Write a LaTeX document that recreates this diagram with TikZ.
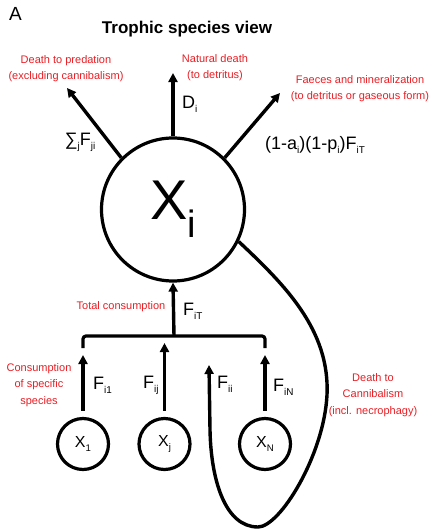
\documentclass[tikz,border=0pt]{standalone}
\usepackage{fontspec}
\setmainfont{Liberation Sans}
\usetikzlibrary{arrows.meta}
\definecolor{labred}{RGB}{232,30,36}
\newcommand{\sbs}[2][0.55]{\raisebox{-0.22em}{\scalebox{#1}{#2}}}
\tikzset{
  flow/.style={line width=3.4pt,-{Triangle[length=9pt,width=9pt]}},
  pool/.style={circle,draw,line width=3.2pt,inner sep=0pt},
  note/.style={text=labred,font=\fontsize{11}{16}\selectfont,align=center},
  flux/.style={font=\fontsize{18}{20}\selectfont,inner sep=0pt,anchor=west}
}
\begin{document}
\begin{tikzpicture}[x=1pt,y=-1pt]
    \useasboundingbox (0,0) rectangle (432,531);
    \node[font=\fontsize{19}{20}\selectfont] (panel) at (15.5,14) {A};
    \node[font=\fontsize{17}{20}\selectfont\bfseries] (title) at (187,29) {Trophic species view};
    % the pools
    \node[pool,minimum size=143pt,font=\fontsize{56}{60}\selectfont] (bigc) at (173,209.5) {X\raisebox{-0.32em}{\scalebox{0.68}{i}}};
    \node[pool,minimum size=51pt,font=\fontsize{16}{18}\selectfont] (x1) at (83,444) {X\sbs[0.6]{1}};
    \node[pool,minimum size=51pt,font=\fontsize{16}{18}\selectfont] (xj) at (164.5,444) {X\sbs[0.6]{j}};
    \node[pool,minimum size=51pt,font=\fontsize{16}{18}\selectfont] (xn) at (265,444) {X\sbs[0.6]{N}};
    % outflows
    \coordinate (tpred) at (67,88);
    \coordinate (tdet) at (173,73);
    \coordinate (tfae) at (280,93);
    \draw[flow] (bigc.135) -- (tpred);
    \draw[flow] (bigc.north) -- (tdet);
    \draw[flow] (bigc.45) -- (tfae);
    \node[note] (pred) at (66,69) {Death to predation\\(excluding cannibalism)};
    \node[note] (det) at (215,67.5) {Natural death\\(to detritus)};
    \node[note] (fae) at (360,89) {Faeces and mineralization\\(to detritus or gaseous form)};
    \node[flux,anchor=center] (sumF) at (80,142) {∑\sbs{j}F\sbs{ji}};
    \node[flux] (Di) at (182,104) {D\sbs{i}};
    \node[flux] (fF) at (265,145) {(1-a\sbs{i})(1-p\sbs{i})F\sbs{iT}};
    % consumption
    \coordinate (brk) at (174,336);
    \coordinate (b1) at (83,348);
    \coordinate (bj) at (164.5,348);
    \coordinate (bn) at (265,348);
    \draw[line width=3.2pt,rounded corners=3pt] (b1) -- (83,336) -- (265,336) -- (bn);
    \draw[flow] (brk) -- (bigc.south);
    \draw[flow,shorten <=6pt,shorten >=7pt] (x1) -- (b1);
    \draw[flow,shorten <=6pt,shorten >=-5pt] (xj) -- (bj);
    \draw[flow,shorten <=6pt,shorten >=7pt] (xn) -- (bn);
    \node[note] (tot) at (121,307) {Total consumption};
    \node[flux] (FiT) at (183,311) {F\sbs{iT}};
    \node[note,font=\fontsize{11}{16.5}\selectfont] (spec) at (39,385) {Consumption\\of specific\\species};
    \node[flux] (Fi1) at (93,385) {F\sbs{i1}};
    \node[flux] (Fij) at (143,385) {F\sbs{ij}};
    \node[flux] (FiN) at (273,387) {F\sbs{iN}};
    % cannibalism loop
    \coordinate (tcan) at (209,365);
    \draw[flow] (bigc.-26) .. controls (285,285) and (330,330) .. (327,395)
        .. controls (324,455) and (280,527) .. (258,527)
        .. controls (225,527) and (211,480) .. (210,430) -- (tcan);
    \node[flux] (Fii) at (217,384) {F\sbs{ii}};
    \node[note,font=\fontsize{11}{16.5}\selectfont] (can) at (373,395) {Death to\\Cannibalism\\(incl. necrophagy)};
\end{tikzpicture}
\end{document}
